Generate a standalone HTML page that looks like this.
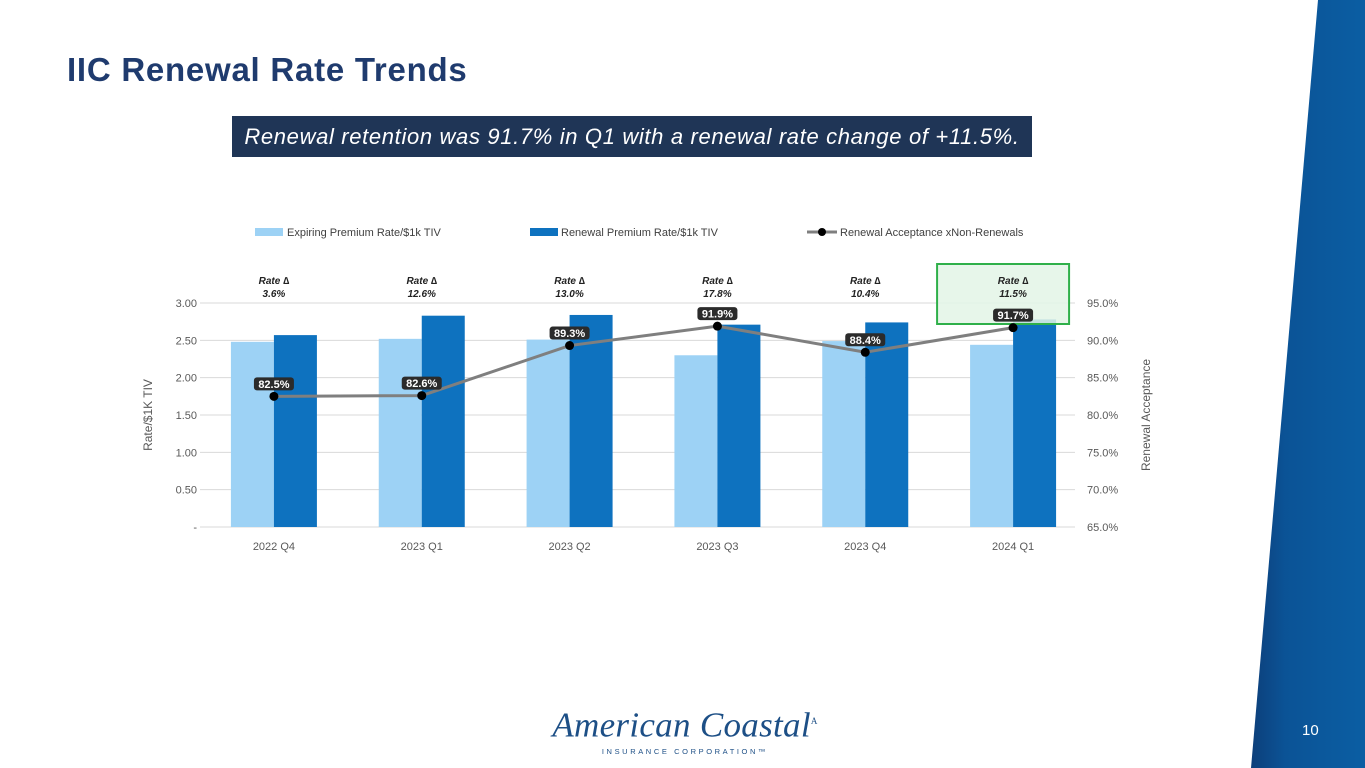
<!DOCTYPE html>
<html><head><meta charset="utf-8"><style>
html,body{margin:0;padding:0;width:1365px;height:768px;overflow:hidden;background:#fff;font-family:"Liberation Sans",sans-serif;position:relative}
.abs{position:absolute}
</style></head><body>
<svg class="abs" style="left:0;top:0" width="1365" height="768">
<defs><linearGradient id="g" x1="0" x2="1" y1="0" y2="0"><stop offset="0" stop-color="#0d3f7a"/><stop offset="0.3" stop-color="#0b5396"/><stop offset="1" stop-color="#0b5ea3"/></linearGradient></defs>
<polygon points="1318,0 1365,0 1365,768 1251,768" fill="url(#g)"/>
</svg>
<div class="abs" style="left:67px;top:51px;font-size:33px;font-weight:bold;color:#1f3b6e;letter-spacing:0.75px">IIC Renewal Rate Trends</div>
<div class="abs" style="left:232px;top:116px;width:800px;height:41px;background:#1f3556;color:#fff;font-style:italic;font-size:22px;line-height:41px;text-align:center;letter-spacing:0.65px">Renewal retention was 91.7% in Q1 with a renewal rate change of +11.5%.</div>
<div class="abs" style="left:1302px;top:722px;color:#fff;font-size:15px">10</div>
<div class="abs" style="left:540px;top:702px;width:290px;text-align:center;color:#1d4f86">
<div style="font-family:'Liberation Serif',serif;font-style:italic;font-size:35px;line-height:38px;letter-spacing:0.3px">American Coastal<sup style="font-size:9px;font-style:normal">A</sup></div>
<div style="font-size:7.5px;letter-spacing:2.6px;margin-top:2px">INSURANCE CORPORATION™</div>
</div>
<svg id="chart" class="abs" style="left:0;top:0" width="1365" height="768"></svg>
<script>
const categories=["2022 Q4","2023 Q1","2023 Q2","2023 Q3","2023 Q4","2024 Q1"];
const expiring=[2.48,2.52,2.51,2.30,2.49,2.44];
const renewal=[2.57,2.83,2.84,2.71,2.74,2.78];
const acceptance=[82.5,82.6,89.3,91.9,88.4,91.7];
const rateChange=["3.6%","12.6%","13.0%","17.8%","10.4%","11.5%"];
const leftTicks=[0,0.5,1,1.5,2,2.5,3];
const leftTickLabels=["-","0.50","1.00","1.50","2.00","2.50","3.00"];
const rightTicks=[65,70,75,80,85,90,95];
const NS="http://www.w3.org/2000/svg";
const svg=document.getElementById('chart');
const top0=303,bot=527,x0=200,x1=1087;
const yL=v=>bot-(v/3)*(bot-top0);
const yR=v=>bot-((v-65)/30)*(bot-top0);
const step=(x1-x0)/categories.length;
const xc=i=>x0+step*(i+0.5);
function mk(t,a,txt){const e=document.createElementNS(NS,t);for(const k in a)e.setAttribute(k,a[k]);if(txt!==undefined)e.textContent=txt;svg.appendChild(e);return e;}
leftTicks.forEach((v,i)=>{
 const g=mk('line',{x1:x0,x2:1075,y1:yL(v),y2:yL(v),stroke:'#d9d9d9','stroke-width':1});
 
 const t=mk('text',{x:197,y:yL(v)+4,'text-anchor':'end','font-size':11,fill:'#595959'},leftTickLabels[i]);
 
});
rightTicks.forEach(v=>{
 const t=mk('text',{x:1087,y:yR(v)+4,'font-size':11,fill:'#595959'},v.toFixed(1)+'%');
 
});
const bw=43;
categories.forEach((c,i)=>{
 const cx=xc(i);
 const b1=mk('rect',{x:cx-bw,y:yL(expiring[i]),width:bw,height:bot-yL(expiring[i]),fill:'#9dd2f5'});
 
 const b2=mk('rect',{x:cx,y:yL(renewal[i]),width:bw,height:bot-yL(renewal[i]),fill:'#0e72bf'});
 
 const t=mk('text',{x:cx,y:550,'text-anchor':'middle','font-size':11,fill:'#595959'},c);
 
});
const hb=mk('rect',{x:xc(5)-76,y:264,width:132,height:60,fill:'#e3f4e6','fill-opacity':0.85,stroke:'#2fb04a','stroke-width':2});

categories.forEach((c,i)=>{
 const cx=xc(i);
 const a=mk('text',{x:cx,y:284,'text-anchor':'middle','font-size':10,'font-weight':'bold','font-style':'italic',fill:'#222'},'Rate ∆');
 
 const b=mk('text',{x:cx,y:297,'text-anchor':'middle','font-size':10,'font-weight':'bold','font-style':'italic',fill:'#222'},rateChange[i]);
 
});
const pts=acceptance.map((v,i)=>xc(i)+','+yR(v)).join(' ');
const ln=mk('polyline',{points:pts,fill:'none',stroke:'#7f7f7f','stroke-width':3});

acceptance.forEach((v,i)=>{
 const cx=xc(i),cy=yR(v);
 const p=mk('circle',{cx:cx,cy:cy,r:4.5,fill:'#000'});
 
 const bg=mk('rect',{x:cx-20,y:cy-19,width:40,height:13,rx:3,fill:'#2b2b2b'});
 
 const t=mk('text',{x:cx,y:cy-8.5,'text-anchor':'middle','font-size':11,'font-weight':'bold',fill:'#fff'},v.toFixed(1)+'%');
 
});
const yt=mk('text',{x:0,y:0,'font-size':12,fill:'#595959','text-anchor':'middle',transform:'translate(152,415) rotate(-90)'},'Rate/$1K TIV');

const yt2=mk('text',{x:0,y:0,'font-size':12,fill:'#595959','text-anchor':'middle',transform:'translate(1150,415) rotate(-90)'},'Renewal Acceptance');

const l1=mk('rect',{x:255,y:228,width:28,height:8,fill:'#9dd2f5'});
const lt1=mk('text',{x:287,y:236,'font-size':11,fill:'#404040'},'Expiring Premium Rate/$1k TIV');
const l2=mk('rect',{x:530,y:228,width:28,height:8,fill:'#0e72bf'});
const lt2=mk('text',{x:561,y:236,'font-size':11,fill:'#404040'},'Renewal Premium Rate/$1k TIV');
const l3=mk('line',{x1:807,x2:837,y1:232,y2:232,stroke:'#7f7f7f','stroke-width':3});
const l4=mk('circle',{cx:822,cy:232,r:4,fill:'#000'});
const lt3=mk('text',{x:840,y:236,'font-size':11,fill:'#404040'},'Renewal Acceptance xNon-Renewals');
</script>
</body></html>
